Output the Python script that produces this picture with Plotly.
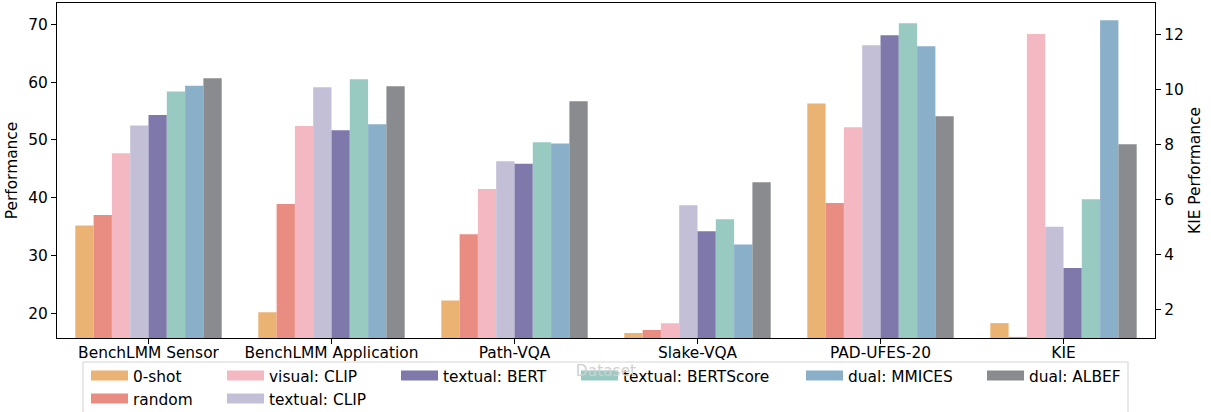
import plotly.graph_objects as go

datasets = ["BenchLMM Sensor", "BenchLMM Application", "Path-VQA", "Slake-VQA", "PAD-UFES-20", "KIE"]
methods = ["0-shot", "random", "visual: CLIP", "textual: CLIP", "textual: BERT",
           "textual: BERTScore", "dual: MMICES", "dual: ALBEF"]

# last value of each list is KIE (right axis)
zero_shot = [35.2, 20.2, 22.2, 16.6, 56.3, 1.5]
random_sel = [37.0, 38.9, 33.7, 17.1, 39.1, 1.0]
visual_clip = [47.7, 52.4, 41.5, 18.3, 52.2, 12.0]
textual_clip = [52.5, 59.1, 46.3, 38.7, 66.4, 5.0]
textual_bert = [54.3, 51.7, 45.9, 34.2, 68.1, 3.5]
textual_bertscore = [58.4, 60.5, 49.6, 36.3, 70.2, 6.0]
dual_mmices = [59.4, 52.7, 49.4, 31.9, 66.2, 12.5]
dual_albef = [60.7, 59.3, 56.7, 42.7, 54.1, 8.0]

series = [zero_shot, random_sel, visual_clip, textual_clip, textual_bert,
          textual_bertscore, dual_mmices, dual_albef]
colors = ["#EAB273", "#E98D83", "#F4B8C3", "#C2BFD6", "#7E79AA", "#98CAC1", "#8AAFC9", "#898B8E"]

# legend columns (matplotlib ncol=6, column-major)
legend_of = ["legend", "legend", "legend2", "legend2", "legend3", "legend4", "legend5", "legend6"]
legend_text_x = [133, 269, 443, 623, 848, 1029]

W, H = 1211, 412
L, R, T, B = 57, 1155, 3, 338

FONT = "DejaVu Sans"
FS = 15.4
ITEMW = 37
n = len(methods)
bw = 0.8 / n

fig = go.Figure()
for i, (name, vals, col) in enumerate(zip(methods, series, colors)):
    off = -0.4 + i * bw
    fig.add_trace(go.Bar(
        x=datasets[:-1], y=vals[:-1], name=name, marker_color=col, marker_line_width=0,
        width=bw, offset=off, legendgroup=name, showlegend=False, yaxis="y",
    ))
    fig.add_trace(go.Bar(
        x=datasets[-1:], y=vals[-1:], name=name, marker_color=col, marker_line_width=0,
        width=bw, offset=off, legendgroup=name, showlegend=False, yaxis="y2",
    ))
    # legend-only entry drawn as a wide patch (matplotlib style)
    fig.add_trace(go.Scatter(
        x=[None], y=[None], mode="lines", name=name, line=dict(color=col, width=11),
        legend=legend_of[i], legendgroup=name, showlegend=True, hoverinfo="skip",
    ))

axis_common = dict(showline=True, linecolor="#000000", linewidth=1.1, ticks="outside",
                   ticklen=5, tickwidth=1.1, tickcolor="#000000", showgrid=False, zeroline=False,
                   automargin=False,
                   tickfont=dict(family=FONT, size=FS, color="#000000"))

legend_layout = {}
for k, tx in enumerate(legend_text_x):
    key = "legend" if k == 0 else f"legend{k+1}"
    legend_layout[key] = dict(
        x=(tx - (ITEMW + 10) - L) / (R - L), xanchor="left",
        y=(B - 359) / (B - T), yanchor="top",
        orientation="v", bgcolor="rgba(0,0,0,0)", borderwidth=0,
        font=dict(family=FONT, size=FS, color="#000000"),
        tracegroupgap=0, itemwidth=ITEMW,
    )

fig.update_layout(
    width=W, height=H,
    margin=dict(l=L, r=W - R, t=T, b=H - B, pad=0, autoexpand=False),
    paper_bgcolor="white", plot_bgcolor="white",
    barmode="overlay",
    font=dict(family=FONT, size=FS, color="#000000"),
    xaxis=dict(**axis_common, type="category", categoryorder="array", categoryarray=datasets,
               range=[-0.5, 5.5], mirror=True, ticklabelstandoff=-5,
               title=dict(text="Dataset", font=dict(family=FONT, size=FS, color="#d0d0d0"),
                          standoff=4)),
    yaxis=dict(**axis_common, range=[15.73, 73.7], tickvals=[20, 30, 40, 50, 60, 70],
               title=dict(text="Performance", font=dict(family=FONT, size=FS), standoff=6)),
    yaxis2=dict(**axis_common, overlaying="y", side="right", range=[0.96, 13.13],
                tickvals=[2, 4, 6, 8, 10, 12],
                title=dict(text="KIE Performance", font=dict(family=FONT, size=FS), standoff=6)),
    **legend_layout,
    showlegend=True,
)

# legend frame
fig.add_shape(type="rect", xref="paper", yref="paper",
              x0=(83 - L) / (R - L), x1=(1128 - L) / (R - L),
              y0=(B - 430) / (B - T), y1=(B - 362) / (B - T),
              line=dict(color="#d6d6d6", width=1.1), fillcolor="rgba(0,0,0,0)", layer="above")

fig.write_html("out.html", config={"displayModeBar": False},
               post_script="document.body.style.margin='0';document.body.style.overflow='hidden';")
